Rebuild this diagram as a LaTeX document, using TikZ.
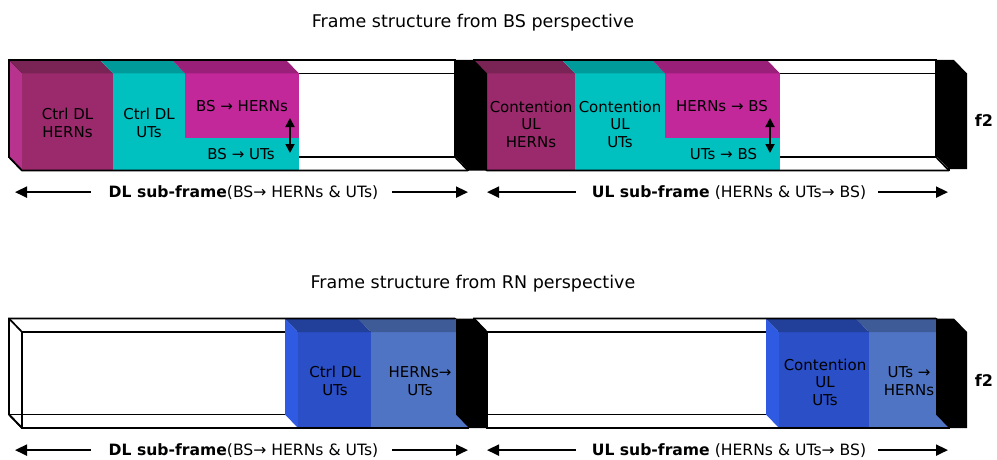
\documentclass[tikz,border=0pt]{standalone}
\usepackage{fontspec}
\setmainfont{DejaVu Sans}
\usetikzlibrary{arrows.meta}

% face colours of the slot blocks
\definecolor{plumF}{HTML}{9A2A6C}
\definecolor{plumT}{HTML}{7A2456}
\definecolor{plumS}{HTML}{B8338E}
\definecolor{cyanF}{HTML}{00C0C0}
\definecolor{cyanT}{HTML}{009A9A}
\definecolor{magF}{HTML}{C2289A}
\definecolor{magT}{HTML}{9A1F78}
\definecolor{blueF}{HTML}{2A4FC6}
\definecolor{blueT}{HTML}{223F9A}
\definecolor{blueS}{HTML}{2F5BE2}
\definecolor{lblueF}{HTML}{4F74C4}
\definecolor{lblueT}{HTML}{3E5B98}

\tikzset{
  edge/.style={line width=1.7pt, line join=miter},
  lbl/.style={font=\fontsize{15}{17.5}\selectfont, align=center, inner sep=0pt},
  ttl/.style={font=\fontsize{17.5}{20}\selectfont, inner sep=0pt, anchor=base},
  sublbl/.style={font=\fontsize{15.6}{18}\selectfont, inner sep=0pt, anchor=base},
  span/.style={line width=2pt, -{Triangle[length=12pt,width=11pt]}},
  updown/.style={line width=1.8pt, {Triangle[length=9pt,width=9pt]}-{Triangle[length=9pt,width=9pt]}},
  fmark/.style={font=\fontsize{16}{19}\bfseries\selectfont, inner sep=0pt},
}

% depth of the 3-D boxes: back face = front face shifted by (-13,-13.5)
% all edges of a see-through box (front x1,x2, front top, front bottom)
\newcommand\frameedges[4]{%
  \draw[edge] (#1,#3) rectangle (#2,#4);
  \draw[edge] ({#1-13},{#3-13.5}) rectangle ({#2-13},{#4-13.5});
  \draw[edge] (#1,#3) -- ({#1-13},{#3-13.5});
  \draw[edge] (#2,#3) -- ({#2-13},{#3-13.5});
  \draw[edge] (#1,#4) -- ({#1-13},{#4-13.5});
  \draw[edge] (#2,#4) -- ({#2-13},{#4-13.5});
}
% outer edges that stay visible over the coloured blocks
\newcommand\rimedges[4]{%
  \draw[edge] ({#2-13},{#3-13.5}) -- ({#1-13},{#3-13.5}) -- ({#1-13},{#4-13.5})
    -- (#1,#4) -- (#2,#4);
}
% front face and top face of one block
\newcommand\brick[6]{%
  \fill[#1] (#3,#5) rectangle (#4,#6);
  \fill[#2] (#3,#5) -- ({#3-13},{#5-13.5}) -- ({#4-13},{#5-13.5}) -- (#4,#5) -- cycle;
}
% left side face of a block
\newcommand\sideface[4]{%
  \fill[#1] (#2,#3) -- ({#2-13},{#3-13.5}) -- ({#2-13},{#4-13.5}) -- (#2,#4) -- cycle;
}
% black guard slab (back-left x, front top, front bottom)
\newcommand\guardslab[3]{%
  \fill[black] (#1,{#2-13.5}) -- ({#1+18},{#2-13.5}) -- ({#1+31},#2) -- ({#1+31},#3)
    -- ({#1+13},#3) -- (#1,{#3-13.5}) -- cycle;
}

\begin{document}
\begin{tikzpicture}[x=1pt,y=-1pt]
\useasboundingbox (0,0) rectangle (997,460);

%% ---------------- BS perspective ----------------
\node[ttl] (title1) at (473,28) {Frame structure from BS perspective};

% DL sub-frame
\frameedges{22}{468}{73.5}{170.5}
\sideface{plumS}{22}{73.5}{170.5}
\brick{plumF}{plumT}{22}{113}{73.5}{170.5}
\brick{cyanF}{cyanT}{113}{185}{73.5}{170.5}
\fill[cyanF] (185,137.5) rectangle (299,170.5);
\brick{magF}{magT}{185}{299}{73.5}{137.5}
\rimedges{22}{468}{73.5}{170.5}

% UL sub-frame
\frameedges{487}{949}{73.5}{170.5}
\sideface{plumS}{487}{73.5}{170.5}
\brick{plumF}{plumT}{487}{575}{73.5}{170.5}
\brick{cyanF}{cyanT}{575}{665}{73.5}{170.5}
\fill[cyanF] (665,137.5) rectangle (780,170.5);
\brick{magF}{magT}{665}{780}{73.5}{137.5}
\rimedges{487}{949}{73.5}{170.5}

\guardslab{456}{73.5}{170.5}
\guardslab{936}{73.5}{169}

\node[lbl] (t1a) at (67.5,123) {Ctrl DL\\HERNs};
\node[lbl] (t1b) at (149,123) {Ctrl DL\\UTs};
\node[lbl, anchor=base] (t1c) at (242,112) {BS → HERNs};
\node[lbl, anchor=base] (t1d) at (241,159.5) {BS → UTs};
\coordinate (t1up) at (290,118);
\coordinate (t1dn) at (290,153);
\draw[updown] (t1up) -- (t1dn);

\node[lbl] (t2a) at (531,124) {Contention\\UL\\HERNs};
\node[lbl] (t2b) at (620,124) {Contention\\UL\\UTs};
\node[lbl, anchor=base] (t2c) at (722,112) {HERNs → BS};
\node[lbl, anchor=base] (t2d) at (723.5,159.5) {UTs → BS};
\coordinate (t2up) at (770,118);
\coordinate (t2dn) at (770,153);
\draw[updown] (t2up) -- (t2dn);

\node[fmark] (f2a) at (984,120) {f2};

\node[sublbl] (dl1) at (243.5,197) {\textbf{DL sub-frame}(BS→ HERNs \& UTs)};
\coordinate (dl1l) at (15,191);
\coordinate (dl1r) at (468,191);
\draw[span] ([xshift=-18pt]dl1.west) -- (dl1.west -| dl1l);
\draw[span] ([xshift=14pt]dl1.east) -- (dl1.east -| dl1r);

\node[sublbl] (ul1) at (729,197) {\textbf{UL sub-frame} (HERNs \& UTs→ BS)};
\coordinate (ul1l) at (487,191);
\coordinate (ul1r) at (948,191);
\draw[span] ([xshift=-16pt]ul1.west) -- (ul1.west -| ul1l);
\draw[span] ([xshift=12pt]ul1.east) -- (ul1.east -| ul1r);

%% ---------------- RN perspective ----------------
\node[ttl] (title2) at (473,288) {Frame structure from RN perspective};

% DL sub-frame
\frameedges{22}{468}{332}{428}
\sideface{blueS}{298}{332}{428}
\brick{blueF}{blueT}{298}{371}{332}{428}
\brick{lblueF}{lblueT}{371}{468}{332}{428}
\rimedges{22}{468}{332}{428}

% UL sub-frame
\frameedges{487}{949}{332}{428}
\sideface{blueS}{779}{332}{428}
\brick{blueF}{blueT}{779}{869}{332}{428}
\brick{lblueF}{lblueT}{869}{949}{332}{428}
\rimedges{487}{949}{332}{428}

\guardslab{456}{332}{428}
\guardslab{936}{332}{428}

\node[lbl] (b1a) at (335,381) {Ctrl DL\\UTs};
\node[lbl] (b1b) at (420,381) {HERNs→\\UTs};
\node[lbl] (b2a) at (825,382) {Contention\\UL\\UTs};
\node[lbl] (b2b) at (909,381) {UTs →\\HERNs};

\node[fmark] (f2b) at (984,380) {f2};

\node[sublbl] (dl2) at (243.5,455) {\textbf{DL sub-frame}(BS→ HERNs \& UTs)};
\coordinate (dl2l) at (15,448);
\coordinate (dl2r) at (468,448);
\draw[span] ([xshift=-18pt]dl2.west) -- (dl2.west -| dl2l);
\draw[span] ([xshift=14pt]dl2.east) -- (dl2.east -| dl2r);

\node[sublbl] (ul2) at (729,455) {\textbf{UL sub-frame} (HERNs \& UTs→ BS)};
\coordinate (ul2l) at (487,448);
\coordinate (ul2r) at (948,448);
\draw[span] ([xshift=-16pt]ul2.west) -- (ul2.west -| ul2l);
\draw[span] ([xshift=12pt]ul2.east) -- (ul2.east -| ul2r);
\end{tikzpicture}
\end{document}
